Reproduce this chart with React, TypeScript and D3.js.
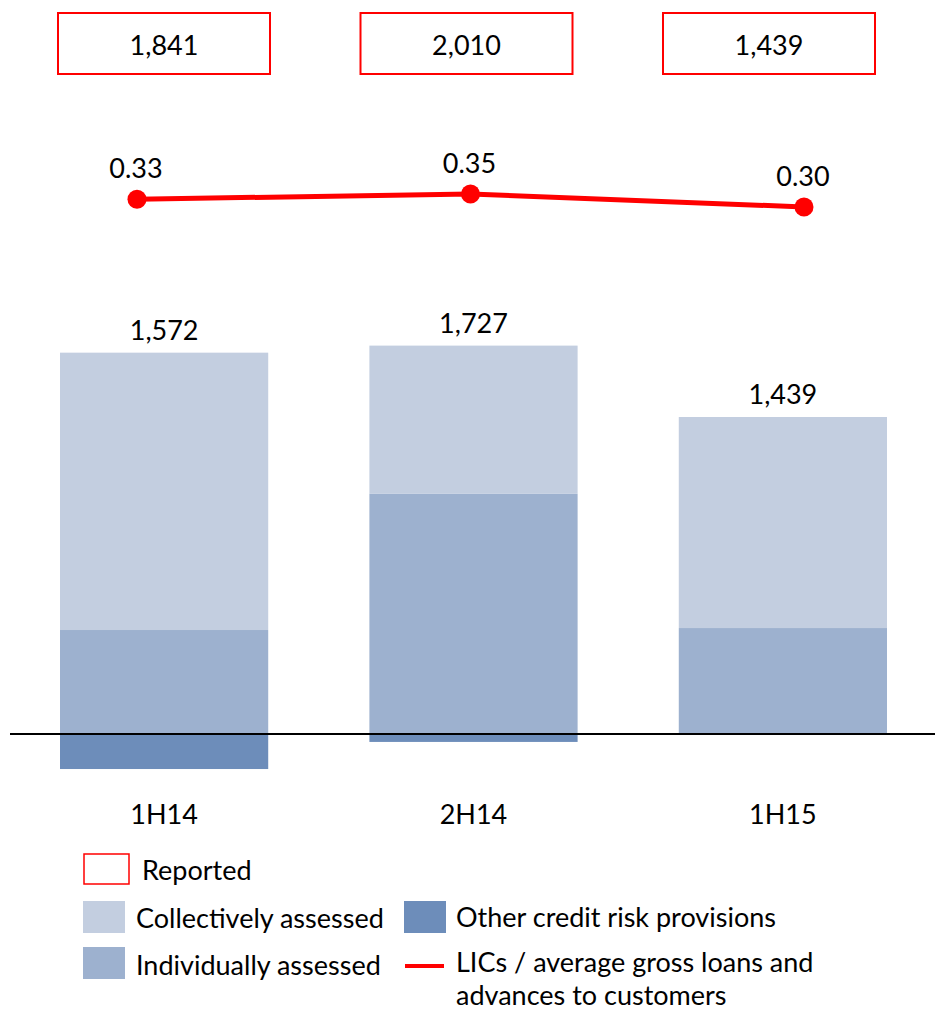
import React from "react";
import * as d3 from "d3";

const categories = ["1H14", "2H14", "1H15"];
const reported = [1841, 2010, 1439];
const collectivelyAssessed = [1259, 673, 958];
const individuallyAssessed = [472, 1090, 481];
const otherCreditRisk = [-159, -36, 0];
const totals = [1572, 1727, 1439];
const licRatio = [0.33, 0.35, 0.3];

const COLORS = {
  collective: "#C3CEE0",
  individual: "#9DB1CF",
  other: "#6D8DBA",
  red: "#FF0000",
};

const FONT = "Lato, 'Open Sans', sans-serif";
const fmt = d3.format(",");

export default function App() {
  const W = 935;
  const H = 1011;
  const k = 0.2203;
  const base = 734;
  const FS = 27;

  const x = d3.scaleBand<string>().domain(categories).range([60, 887]).paddingInner(0.327).paddingOuter(0);
  const y = d3.scaleLinear().domain([-200, 2000]).range([base + 200 * k, base - 2000 * k]);
  const xLine = d3.scalePoint<string>().domain(categories).range([137, 804]);
  const yLine = d3.scaleLinear().domain([0.3, 0.35]).range([207, 194]);
  const xBox = d3.scalePoint<string>().domain(categories).range([164, 769]);

  const stacks = categories.map((c, i) => {
    const ind = individuallyAssessed[i];
    const col = collectivelyAssessed[i];
    const oth = otherCreditRisk[i];
    return [
      { key: "individual", y0: 0, y1: ind },
      { key: "collective", y0: ind, y1: ind + col },
      { key: "other", y0: oth, y1: 0 },
    ];
  });

  const line = d3
    .line<number>()
    .x((_, i) => xLine(categories[i]) as number)
    .y((d) => yLine(d));

  const boxW = 212;
  const boxH = 61;

  return (
    <svg
      width={W}
      height={H}
      style={{ position: "absolute", left: 0, top: 0, background: "#fff" }}
      fontFamily={FONT}
    >
      {/* Reported boxes */}
      {categories.map((c, i) => (
        <g key={"rep" + c}>
          <rect
            x={(xBox(c) as number) - boxW / 2}
            y={13}
            width={boxW}
            height={boxH}
            fill="#fff"
            stroke={COLORS.red}
            strokeWidth={2}
          />
          <text x={xBox(c)} y={55} textAnchor="middle" fontSize={FS} fill="#000">
            {fmt(reported[i])}
          </text>
        </g>
      ))}

      {/* LIC ratio line */}
      <path d={line(licRatio) || ""} fill="none" stroke={COLORS.red} strokeWidth={5} />
      {licRatio.map((v, i) => (
        <g key={"lic" + i}>
          <circle cx={xLine(categories[i])} cy={yLine(v)} r={9.5} fill={COLORS.red} />
          <text
            x={(xLine(categories[i]) as number) - 1}
            y={yLine(v) - 21}
            textAnchor="middle"
            fontSize={FS}
            fill="#000"
          >
            {v.toFixed(2)}
          </text>
        </g>
      ))}

      {/* Bars */}
      {categories.map((c, i) =>
        stacks[i].map((s) =>
          s.y1 !== s.y0 ? (
            <rect
              key={c + s.key}
              x={x(c)}
              width={x.bandwidth()}
              y={y(Math.max(s.y0, s.y1))}
              height={Math.abs(y(s.y0) - y(s.y1))}
              fill={(COLORS as any)[s.key]}
            />
          ) : null
        )
      )}

      {/* Total labels */}
      {categories.map((c, i) => (
        <text
          key={"tot" + c}
          x={(x(c) as number) + x.bandwidth() / 2}
          y={y(individuallyAssessed[i] + collectivelyAssessed[i]) - 13}
          textAnchor="middle"
          fontSize={FS}
          fill="#000"
        >
          {fmt(totals[i])}
        </text>
      ))}

      {/* Zero baseline */}
      <line x1={10} x2={935} y1={y(0)} y2={y(0)} stroke="#000" strokeWidth={2} />

      {/* Category labels */}
      {categories.map((c) => (
        <text
          key={"cat" + c}
          x={(x(c) as number) + x.bandwidth() / 2}
          y={824}
          textAnchor="middle"
          fontSize={FS}
          fill="#000"
        >
          {c}
        </text>
      ))}

      {/* Legend */}
      <g fontSize={FS} fill="#000">
        <rect x={84} y={854} width={45} height={30} fill="#fff" stroke={COLORS.red} strokeWidth={1.5} />
        <text x={142} y={880}>Reported</text>

        <rect x={83} y={901} width={42} height={32} fill={COLORS.collective} />
        <text x={136} y={928}>Collectively assessed</text>

        <rect x={83} y={947} width={42} height={32} fill={COLORS.individual} />
        <text x={136} y={975}>Individually assessed</text>

        <rect x={404} y={901} width={42} height={32} fill={COLORS.other} />
        <text x={456} y={927}>Other credit risk provisions</text>

        <line x1={405} x2={444} y1={966} y2={966} stroke={COLORS.red} strokeWidth={4} />
        <text x={456} y={972}>LICs / average gross loans and</text>
        <text x={456} y={1005}>advances to customers</text>
      </g>
    </svg>
  );
}
